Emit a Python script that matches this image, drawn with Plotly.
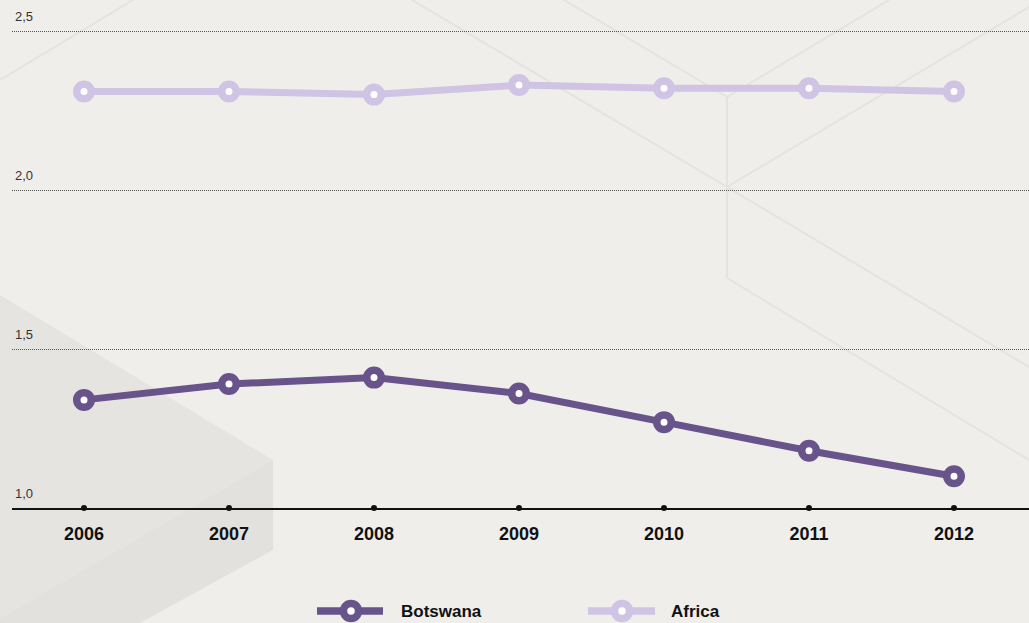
import plotly.graph_objects as go

# Series values
years = [2006, 2007, 2008, 2009, 2010, 2011, 2012]
botswana = [1.34, 1.39, 1.41, 1.36, 1.27, 1.18, 1.10]
africa = [2.31, 2.31, 2.30, 2.33, 2.32, 2.32, 2.31]

y_ticks = [1.0, 1.5, 2.0, 2.5]
y_tick_labels = ["1,0", "1,5", "2,0", "2,5"]
series_names = ["Botswana", "Africa"]

W, H = 1029, 623
ML, MR, MT, MB = 12, 0, 0, 115
PW, PH = W - ML - MR, H - MT - MB

BG = "#efeeea"
DARK = "#68538b"
LIGHT = "#cfc4e3"
FONT = "Liberation Sans Narrow, Liberation Sans, Arial, sans-serif"
FONT_B = "Liberation Sans Narrow Bold, Liberation Sans, Arial, sans-serif"


def px(x, y):
    """Pixel position on the page -> paper coordinates."""
    return (x - ML) / PW, (H - MB - y) / PH


def path(points):
    pts = [px(x, y) for x, y in points]
    return "M " + " L ".join(f"{a:.5f},{b:.5f}" for a, b in pts) + " Z"


shapes = []
# background panels, lower left
shapes.append(dict(type="path", xref="paper", yref="paper", layer="below",
                   path=path([(0, 295), (273, 460), (0, 618)]),
                   fillcolor="#e6e4e0", line=dict(width=0)))
shapes.append(dict(type="path", xref="paper", yref="paper", layer="below",
                   path=path([(0, 618), (273, 460), (273, 550), (140, 623), (0, 623)]),
                   fillcolor="#e3e1dd", line=dict(width=0)))

# thin decorative lines
deco = [
    [(0, 80), (133, 0)],
    [(412, 0), (727, 187), (1029, 7)],
    [(564, 0), (727, 97), (889, 0)],
    [(727, 97), (727, 278), (1029, 460)],
    [(727, 187), (1029, 367)],
]
for seg in deco:
    for (x0, y0), (x1, y1) in zip(seg[:-1], seg[1:]):
        a0, b0 = px(x0, y0)
        a1, b1 = px(x1, y1)
        shapes.append(dict(type="line", xref="paper", yref="paper", layer="below",
                           x0=a0, y0=b0, x1=a1, y1=b1,
                           line=dict(color="#e5e3df", width=2)))

# legend glyphs
legend_items = [(series_names[0], DARK, 317, 383, 351, 399),
                (series_names[1], LIGHT, 588, 655, 622, 669)]
annotations = []
for name, col, lx0, lx1, mx, tx in legend_items:
    a0, b = px(lx0, 611)
    a1, _ = px(lx1, 611)
    shapes.append(dict(type="line", xref="paper", yref="paper", x0=a0, x1=a1, y0=b, y1=b,
                       line=dict(color=col, width=7.5)))
    cx0, cy0 = px(mx - 7.5, 611 - 7.5)
    cx1, cy1 = px(mx + 7.5, 611 + 7.5)
    shapes.append(dict(type="circle", xref="paper", yref="paper",
                       x0=cx0, x1=cx1, y0=cy0, y1=cy1,
                       fillcolor="white", line=dict(color=col, width=7.5)))
    ta, tb = px(tx, 611)
    annotations.append(dict(xref="paper", yref="paper", x=ta, y=tb,
                            text=f"<b>{name}</b>",
                            showarrow=False, xanchor="left", yanchor="middle",
                            font=dict(family=FONT_B, size=17, color="#111")))

# y tick labels sit just above their gridlines at the left edge
for v, lab in zip(y_ticks, y_tick_labels):
    annotations.append(dict(xref="paper", yref="y", x=0, y=v, text=lab,
                            showarrow=False, xanchor="left", yanchor="bottom",
                            xshift=1, yshift=5,
                            font=dict(family=FONT, size=13, color="#333")))

fig = go.Figure()

for name, vals, col in [(series_names[1], africa, LIGHT), (series_names[0], botswana, DARK)]:
    fig.add_trace(go.Scatter(
        x=years, y=vals, name=name, mode="lines+markers",
        line=dict(color=col, width=7),
        marker=dict(size=14.5, color="white", line=dict(color=col, width=7.5)),
        cliponaxis=False, showlegend=False, hoverinfo="x+y+name"))

# tick dots along the baseline
fig.add_trace(go.Scatter(
    x=years, y=[y_ticks[0]] * len(years), mode="markers",
    marker=dict(size=6, color="#111"), cliponaxis=False,
    showlegend=False, hoverinfo="skip"))

x_lo = years[0] - (84 - ML) / 145
x_hi = x_lo + PW / 145
y_hi = 1.0 + PH / 318

fig.update_layout(
    width=W, height=H,
    margin=dict(l=ML, r=MR, t=MT, b=MB),
    paper_bgcolor=BG, plot_bgcolor="rgba(0,0,0,0)",
    shapes=shapes, annotations=annotations,
    showlegend=False,
    xaxis=dict(range=[x_lo, x_hi], tickvals=years,
               ticktext=[f"<b>{y}</b>" for y in years],
               showgrid=False, zeroline=False, showline=True, linecolor="#111",
               linewidth=1.5, ticks="", ticklabelstandoff=9,
               tickfont=dict(family=FONT_B, size=18, color="#111")),
    yaxis=dict(range=[1.0, y_hi], tickvals=y_ticks[1:], showticklabels=False,
               showgrid=True, gridcolor="#555", gridwidth=1, griddash="1px,1px",
               zeroline=False, showline=False),
)

fig.write_html("out.html")
